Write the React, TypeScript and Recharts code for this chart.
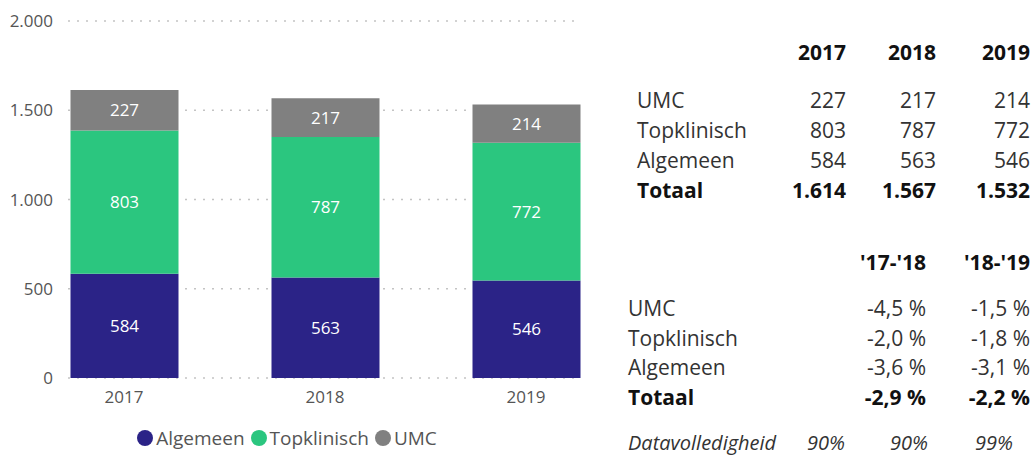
import React from 'react';
import { BarChart, Bar, XAxis, YAxis, CartesianGrid, Legend, LabelList } from 'recharts';

const years = ['2017', '2018', '2019'];
const algemeen = [584, 563, 546];
const topklinisch = [803, 787, 772];
const umc = [227, 217, 214];
const yTicks = [0, 500, 1000, 1500, 2000];

const periods = ["'17-'18", "'18-'19"];
const umcChange = ['-4,5 %', '-1,5 %'];
const topChange = ['-2,0 %', '-1,8 %'];
const algChange = ['-3,6 %', '-3,1 %'];
const totChange = ['-2,9 %', '-2,2 %'];
const completenessLabel = 'Datavolledigheid';
const completeness = ['90%', '90%', '99%'];

const COLORS = { Algemeen: '#2b2387', Topklinisch: '#2bc67f', UMC: '#808080' };
const FONT = '"Open Sans", "Noto Sans", sans-serif';

const data = years.map((y, i) => ({
  year: y,
  Algemeen: algemeen[i],
  Topklinisch: topklinisch[i],
  UMC: umc[i],
}));

const fmt = (v: number) => v.toLocaleString('de-DE');

const legendItems = ['Algemeen', 'Topklinisch', 'UMC'] as const;

const LegendContent = () => (
  <div style={{ height: 40, display: 'flex', justifyContent: 'center', alignItems: 'center', fontFamily: FONT, fontSize: 19, color: '#555' }}>
    {legendItems.map((k) => (
      <div key={k} style={{ display: 'flex', alignItems: 'center', marginRight: 6 }}>
        <span style={{ display: 'inline-block', width: 16, height: 16, borderRadius: 8, background: COLORS[k], marginRight: 3 }} />
        <span>{k}</span>
      </div>
    ))}
  </div>
);

type Cell = { text: string; xRight?: number; xLeft?: number; y: number; bold?: boolean; italic?: boolean; size?: number; h?: number };

const TextCell = ({ c }: { c: Cell }) => {
  const h = c.h || 30;
  const style: React.CSSProperties = {
    position: 'absolute',
    top: c.y - h / 2,
    height: h,
    lineHeight: h + 'px',
    fontFamily: FONT,
    fontSize: c.size || 21,
    fontWeight: c.bold ? 700 : 400,
    fontStyle: c.italic ? 'italic' : 'normal',
    color: c.bold ? '#111' : '#333',
    whiteSpace: 'nowrap',
  };
  if (c.xRight !== undefined) {
    style.right = 1034 - c.xRight;
    style.textAlign = 'right';
  } else {
    style.left = c.xLeft;
  }
  return <div style={style}>{c.text}</div>;
};

export default function App() {
  const cells: Cell[] = [];
  // table 1
  const t1Cols = [846, 936, 1030];
  const t1Rows = [
    { label: 'UMC', vals: umc.map(fmt) },
    { label: 'Topklinisch', vals: topklinisch.map(fmt) },
    { label: 'Algemeen', vals: algemeen.map(fmt) },
    { label: 'Totaal', vals: years.map((_, i) => fmt(algemeen[i] + topklinisch[i] + umc[i])), bold: true },
  ];
  years.forEach((y, i) => cells.push({ text: y, xRight: t1Cols[i], y: 52, bold: true }));
  t1Rows.forEach((r, ri) => {
    const y = 100 + ri * 30;
    cells.push({ text: r.label, xLeft: 637, y, bold: r.bold });
    r.vals.forEach((v, i) => cells.push({ text: v, xRight: t1Cols[i], y, bold: r.bold }));
  });
  // table 2
  const t2Cols = [926, 1030];
  const t2Rows = [
    { label: 'UMC', vals: umcChange },
    { label: 'Topklinisch', vals: topChange },
    { label: 'Algemeen', vals: algChange },
    { label: 'Totaal', vals: totChange, bold: true },
  ];
  periods.forEach((p, i) => cells.push({ text: p, xRight: t2Cols[i], y: 262, bold: true }));
  t2Rows.forEach((r, ri) => {
    const y = 308 + ri * 29.7;
    cells.push({ text: r.label, xLeft: 628, y, bold: r.bold });
    r.vals.forEach((v, i) => cells.push({ text: v, xRight: t2Cols[i], y, bold: r.bold }));
  });
  const t3Cols = [845, 928, 1013];
  cells.push({ text: completenessLabel, xLeft: 628, y: 443, italic: true, size: 20, h: 28 });
  completeness.forEach((v, i) => cells.push({ text: v, xRight: t3Cols[i], y: 443, italic: true, size: 20, h: 28 }));

  return (
    <div style={{ position: 'absolute', left: 0, top: 0, width: 1034, height: 458, background: '#fff', overflow: 'hidden' }}>
      <BarChart width={582} height={458} data={data} margin={{ top: 21, right: 2, left: 0, bottom: 0 }}>
        <CartesianGrid vertical={false} stroke="#c4c4c4" strokeDasharray="2 7" strokeWidth={1.5} />
        <XAxis
          dataKey="year"
          axisLine={false}
          tickLine={false}
          tickSize={0}
          tickMargin={13}
          height={40}
          padding={{ left: -44.5, right: -46.5 }}
          tick={{ fill: '#555', fontSize: 17, fontFamily: FONT }}
        />
        <YAxis
          domain={[0, 2000]}
          ticks={yTicks}
          width={68}
          axisLine={false}
          tickLine={false}
          tickSize={0}
          tickMargin={15}
          tickFormatter={fmt}
          tick={{ fill: '#555', fontSize: 17, fontFamily: FONT }}
        />
        <Legend verticalAlign="bottom" height={40} content={<LegendContent />} />
        {legendItems.map((k) => (
          <Bar key={k} dataKey={k} stackId="a" fill={COLORS[k]} barSize={108} isAnimationActive={false}>
            <LabelList dataKey={k} position="center" fill="#fff" fontSize={17} fontFamily={FONT} />
          </Bar>
        ))}
      </BarChart>
      {cells.map((c, i) => (
        <TextCell key={i} c={c} />
      ))}
    </div>
  );
}
